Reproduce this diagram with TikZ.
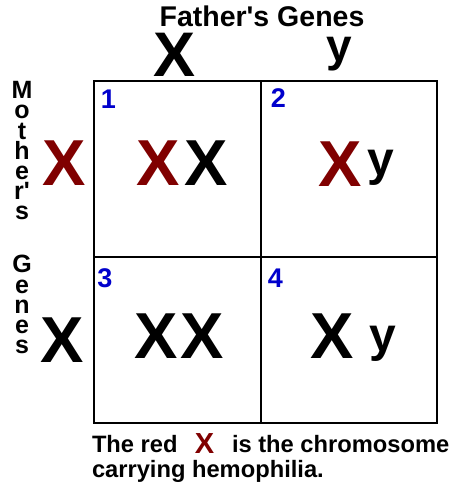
\documentclass[tikz,border=0pt]{standalone}
\usepackage{fontspec}
\setmainfont{Liberation Sans}[Ligatures=TeXOff]
\definecolor{hemo}{HTML}{800000}
\definecolor{numblue}{HTML}{0000CC}
\begin{document}
\begin{tikzpicture}[x=1pt,y=-1pt,
  every node/.style={inner sep=0pt,outer sep=0pt,anchor=base},
  title/.style={font=\fontsize{28.5}{30}\selectfont\bfseries},
  parent/.style={font=\fontsize{63}{63}\selectfont\bfseries},
  parenty/.style={font=\fontsize{46}{46}\selectfont\bfseries},
  cellx/.style={font=\fontsize{65}{65}\selectfont\bfseries},
  celly/.style={font=\fontsize{48}{48}\selectfont\bfseries},
  num/.style={font=\fontsize{27}{27}\selectfont\bfseries,text=numblue},
  vert/.style={font=\fontsize{25}{20.2}\selectfont\bfseries,align=center,anchor=north},
  note/.style={font=\fontsize{23.7}{24}\selectfont\bfseries,anchor=base west},
  grid/.style={line width=2.5pt}
]
\useasboundingbox (0,0) rectangle (453,488);
\fill[white] (0,0) rectangle (453,488);

% grid
\draw[grid] (94,81) rectangle (437,423);
\draw[grid] (261,81) -- (261,423);
\draw[grid] (94,257) -- (437,257);

% father's genes
\node[title] (ftitle) at (262,26) {Father's Genes};
\node[parent] (fx) at (175,76) {X};
\node[parenty] (fy) at (339,61) {y};

% mother's genes (vertical)
\node[vert] (mtitle) at (22,81.5) {M\\o\\t\\h\\e\\r'\\s};
\node[vert] (gtitle) at (22,255.5) {G\\e\\n\\e\\s};
\node[cellx,text=hemo] (mx1) at (64.5,185) {X};
\node[cellx] (mx2) at (62,362) {X};

% cell numbers
\node[num] (n1) at (108.5,108) {1};
\node[num] (n2) at (278.5,107) {2};
\node[num] (n3) at (105,287) {3};
\node[num] (n4) at (275.5,287) {4};

% cell 1
\node[cellx,text=hemo] (c1a) at (158.5,185) {X};
\node[cellx] (c1b) at (206,185) {X};
% cell 2
\node[cellx,text=hemo] (c2a) at (340,186) {X};
\node[celly] (c2b) at (381,175) {y};
% cell 3
\node[cellx] (c3a) at (156,358) {X};
\node[cellx] (c3b) at (202,358) {X};
% cell 4
\node[cellx] (c4a) at (332.5,358) {X};
\node[celly] (c4b) at (382.5,351) {y};

% note
\node[note] (t1) at (92,452) {The red};
\node[font=\fontsize{29}{29}\selectfont\bfseries,text=hemo] (tx) at (204.5,453) {X};
\node[note] (t2) at (232,452) {is the chromosome};
\node[note] (t3) at (92,477) {carrying hemophilia.};
\end{tikzpicture}
\end{document}
